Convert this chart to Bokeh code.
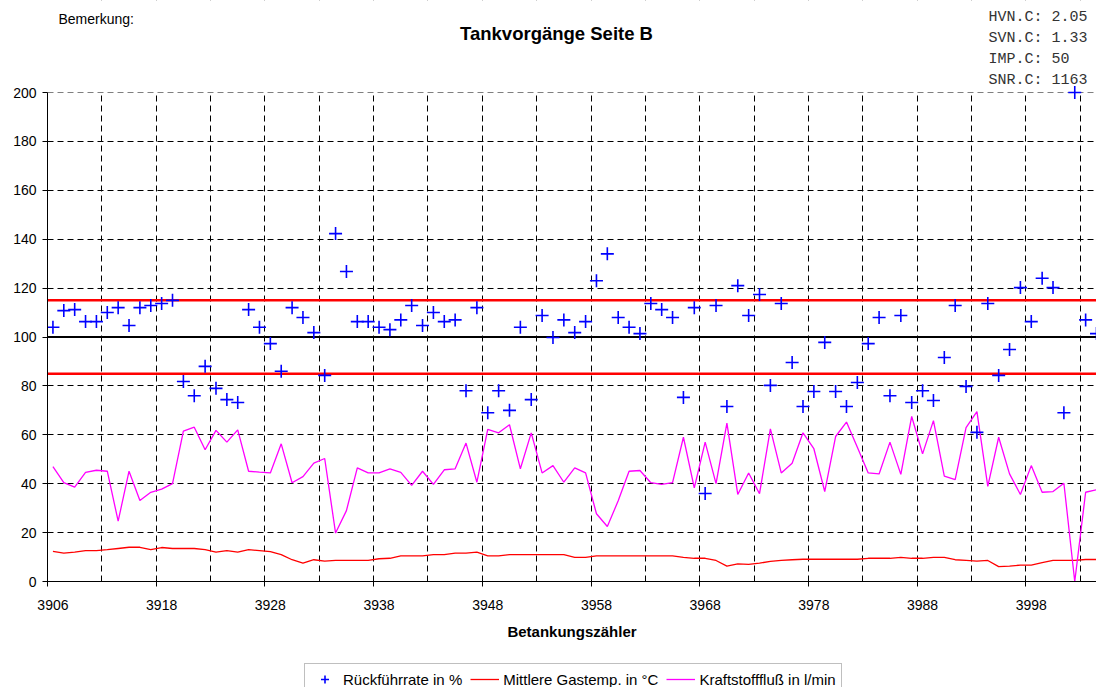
from bokeh.plotting import figure
from bokeh.layouts import column
from bokeh.models import (Range1d, FixedTicker, Span, Label, Legend, LegendItem,
                          BoxAnnotation)
from bokeh.embed import file_html
from bokeh.resources import INLINE

# ---------------- data ----------------
tick_labels = ["3906", "3918", "3928", "3938", "3948", "3958", "3968", "3978", "3988", "3998"]
tick_categories = [0, 10, 20, 30, 40, 50, 60, 70, 80, 90]

rueckfuehrrate = [104, 110.8, 111.2, 106.3, 106.3, 110, 112, 104.7, 112, 112.9, 113.7, 115,
                  81.8, 76, 88, 79, 74.4, 73.2, 111.2, 104, 97.3, 86, 112, 108, 101.8, 84.3,
                  142.3, 126.8, 106.3, 106.3, 104, 103, 107, 112.9, 104.7, 110, 106.3, 107,
                  78, 112, 69, 78, 70, 104, 74.4, 108.8, 99.8, 107, 101.8, 106.3,
                  123, 134, 108, 104, 101.4, 113.7, 111.2, 108, 75.3, 112,
                  36, 112.9, 71.6, 121, 108.8, 117.4, 80.2, 113.7, 89.6, 71.6,
                  77.7, 97.8, 77.7, 71.6, 81.4, 97.3, 108, 76, 108.8, 73.2,
                  78, 74, 91.6, 112.9, 79.8, 61, 113.7, 84.3, 94.9, 120.2,
                  106.3, 124, 120.2, 69, 200, 107, 101.4]

gastemp = [12.3, 11.6, 12, 12.6, 12.6, 13, 13.5, 14, 14, 13, 13.9, 13.5, 13.5, 13.5, 13, 12,
           12.6, 12, 13, 12.6, 12.2, 11, 8.9, 7.5, 8.9, 8.3, 8.6,
           8.6, 8.6, 8.6, 9.3, 9.5, 10.5, 10.5, 10.5, 11, 11, 11.6, 11.6, 12, 10.5, 10.5,
           11, 11, 11, 11, 11, 11, 9.9, 9.9, 10.5, 10.5, 10.5,
           10.5, 10.5, 10.5, 10.5, 10.5, 9.9, 9.5, 9.5, 8.6, 6.3, 7.2, 7, 7.5, 8.2, 8.6,
           8.9, 9.1, 9.1, 9.1, 9.1, 9.1, 9.1, 9.5, 9.5, 9.5, 9.9, 9.5,
           9.5, 9.9, 9.9, 8.9, 8.6, 8.3, 8.6, 6.1, 6.3, 6.7, 6.7, 7.7, 8.6, 8.6, 8.6, 9, 9]

kraftstofffluss = [47, 40.4, 38.6, 44.6, 45.5, 45.1, 24.7, 45.1, 33.1, 36.5, 37.8, 40,
                   61.5, 63.1, 53.9, 61.8, 57, 62, 45.1, 44.7, 44.4, 56.3, 40.4, 42.9, 48.4, 50.3, 19.8,
                   29, 46.5, 44.4, 44.4, 46.1, 44.6, 39.3, 45.1, 39.7, 45.7, 46.1, 56.6, 40.6,
                   62.2, 60.8, 64.1, 46.1, 60.8, 44.4, 47.4, 40.6, 46.5, 44.4, 27.7, 22.5, 33,
                   45.1, 45.4, 40.4, 39.7, 40.4, 59, 38.3, 57, 40, 64.8, 35.6, 44.4, 35.9, 62.4,
                   44.4, 48.4, 60.8, 54.3, 36.8, 59.3, 65.2, 54.9, 44.4, 44, 57, 43.8, 67.5,
                   52.2, 65.8, 43.1, 41.7, 62.9, 69.5, 38.9, 59, 44, 35.6, 47.4, 36.5, 36.8,
                   40.2, 0, 36.5, 37.5]

series_names = ["Rückführrate in %", "Mittlere Gastemp. in °C", "Kraftstofffluß in l/min"]

ref_values = [85, 100, 115]
ref_colors = ["#FF0000", "#000000", "#FF0000"]

info_lines = ["HVN.C: 2.05", "SVN.C: 1.33", "IMP.C: 50", "SNR.C: 1163"]

Y_MAX = 200
# category positions (centre of each category slot)
xs = [i + 0.5 for i in range(len(rueckfuehrrate))]

FONT = "Liberation Sans"
W = 1096
H_MAIN, H_LEG = 653, 34
LEFT = 47
PLOT_BOTTOM = 581                  # pixel row of the 0 line
PLOT_TOP = 92                      # pixel row of the 200 line
frame_h = PLOT_BOTTOM              # frame reaches the top edge of the canvas
y_top = Y_MAX * frame_h / (frame_h - PLOT_TOP)

STYLE_RUECK = dict(marker="cross", size=13, line_color="#0000FF", line_width=1.6)
STYLE_GAS = dict(line_color="#FF0000", line_width=1.3)
STYLE_KRAFT = dict(line_color="#FF00FF", line_width=1.3)

p = figure(width=W, height=H_MAIN,
           x_range=Range1d(0, 96.5), y_range=Range1d(0, y_top),
           output_backend="svg", toolbar_location=None,
           min_border_left=LEFT, min_border_right=0,
           min_border_top=0, min_border_bottom=H_MAIN - PLOT_BOTTOM)
p.title.visible = False
p.outline_line_color = None
p.background_fill_color = "white"
p.border_fill_color = "white"

# grids
p.xgrid.ticker = FixedTicker(ticks=list(range(5, 100, 5)))
p.ygrid.ticker = FixedTicker(ticks=list(range(20, Y_MAX + 1, 20)))
for g in (p.xgrid, p.ygrid):
    g.grid_line_color = "#000000"
    g.grid_line_dash = "6 4"
    g.grid_line_width = 1
# blank the header band above the 200 line
p.add_layout(BoxAnnotation(bottom=Y_MAX, fill_color="white", fill_alpha=1,
                           line_color=None, level="underlay"))

# x axis: labels at category centres, tick marks at category boundaries
xa = p.xaxis[0]
xa.ticker = FixedTicker(ticks=[c + 0.5 for c in tick_categories], minor_ticks=tick_categories)
xa.major_label_overrides = {c + 0.5: lab for c, lab in zip(tick_categories, tick_labels)}
xa.major_tick_line_color = None
xa.major_tick_out = 0
xa.major_tick_in = 0
xa.minor_tick_line_color = "#000000"
xa.minor_tick_in = 3
xa.minor_tick_out = 5
xa.axis_line_color = "#000000"
xa.major_label_standoff = 13
xa.major_label_text_font = FONT
xa.major_label_text_font_size = "14px"
xa.major_label_text_color = "#000000"
xa.axis_label = "Betankungszähler"
xa.axis_label_text_font = FONT
xa.axis_label_text_font_style = "bold"
xa.axis_label_text_font_size = "15px"
xa.axis_label_text_color = "#000000"
xa.axis_label_standoff = 10

ya = p.yaxis[0]
ya.bounds = (0, Y_MAX)
ya.ticker = FixedTicker(ticks=list(range(0, Y_MAX + 1, 20)))
ya.minor_tick_line_color = None
ya.major_tick_in = 0
ya.major_tick_out = 5
ya.major_tick_line_color = "#000000"
ya.axis_line_color = "#000000"
ya.major_label_standoff = 6
ya.major_label_text_font = FONT
ya.major_label_text_font_size = "14px"
ya.major_label_text_color = "#000000"

# reference lines
for v, c in zip(ref_values, ref_colors):
    p.add_layout(Span(location=v, dimension="width", line_color=c,
                      line_width=2.5 if c == "#FF0000" else 2, level="underlay"))

# series
p.line(xs, gastemp, **STYLE_GAS)
p.line(xs, kraftstofffluss, **STYLE_KRAFT)
p.scatter(xs, rueckfuehrrate, **STYLE_RUECK)

# header texts (screen units relative to the frame's bottom-left corner)
p.add_layout(Label(x=556 - LEFT, y=frame_h - 33, x_units="screen", y_units="screen",
                   text="Tankvorgänge Seite B", text_font=FONT, text_font_style="bold",
                   text_font_size="18.5px", text_color="#000000",
                   text_align="center", text_baseline="middle"))
p.add_layout(Label(x=58 - LEFT, y=frame_h - 18, x_units="screen", y_units="screen",
                   text="Bemerkung:", text_font=FONT, text_font_size="14px",
                   text_color="#000000", text_align="left", text_baseline="middle"))
for k, t in enumerate(info_lines):
    p.add_layout(Label(x=988 - LEFT, y=frame_h - 17 - 21 * k, x_units="screen", y_units="screen",
                       text=t, text_font="Liberation Mono", text_font_size="15px",
                       text_color="#333333", text_align="left", text_baseline="middle"))

# ---------------- legend strip (same series, same styles) ----------------
q = figure(width=W, height=H_LEG, x_range=Range1d(0, 96.5), y_range=Range1d(-2, -1),
           output_backend="svg", toolbar_location=None,
           x_axis_type=None, y_axis_type=None,
           min_border_left=0, min_border_right=0, min_border_top=0, min_border_bottom=0)
q.title.visible = False
q.outline_line_color = None
q.xgrid.visible = False
q.ygrid.visible = False
q.background_fill_color = "white"
q.border_fill_color = "white"
lr = q.scatter(xs, rueckfuehrrate, **STYLE_RUECK)
lg = q.line(xs, gastemp, **STYLE_GAS)
lk = q.line(xs, kraftstofffluss, **STYLE_KRAFT)

legend = Legend(items=[LegendItem(label=series_names[0], renderers=[lr]),
                       LegendItem(label=series_names[1], renderers=[lg]),
                       LegendItem(label=series_names[2], renderers=[lk])],
                location=(257, -8), orientation="horizontal",
                padding=5, spacing=8, margin=0,
                glyph_width=29, glyph_height=20, label_height=20, label_standoff=4,
                label_text_font=FONT, label_text_font_size="15px",
                label_text_color="#000000",
                border_line_color="#808080", border_line_width=1,
                background_fill_color="white", background_fill_alpha=1)
q.add_layout(legend)

layout = column(p, q, spacing=0)
open("out.html", "w").write(file_html(layout, INLINE))
